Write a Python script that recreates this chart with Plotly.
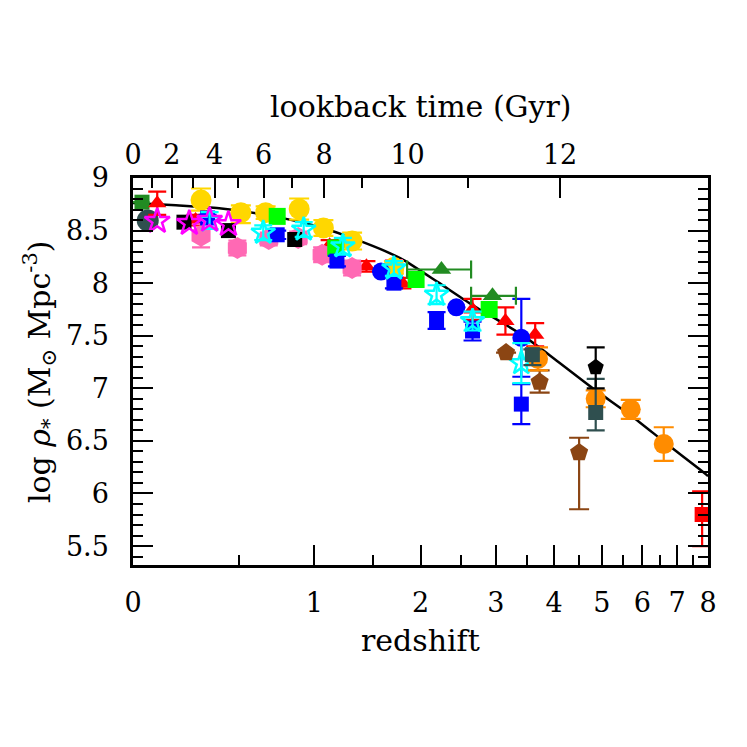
import numpy as np
import plotly.graph_objects as go

# ---------------- data ----------------
# model curve (log stellar mass density vs redshift)
curve_z = [0, 0.178, 0.39, 0.62, 0.82, 1.068, 1.348, 1.633, 1.823, 2.206, 2.641, 3.41, 4.006, 4.83, 5.71, 6.62, 7.76, 8.0]
curve_y = [8.762, 8.74, 8.712, 8.66, 8.604, 8.525, 8.414, 8.30, 8.215, 8.01, 7.80, 7.513, 7.28, 6.99, 6.74, 6.49, 6.22, 6.165]

fgsq_z = [0.035]; fgsq_y = [8.77]
dsgc_z = [0.058]; dsgc_y = [8.595]

red_tri_z = [0.097, 0.27, 1.12, 1.44, 1.80, 2.66, 3.15, 3.65]
red_tri_y = [8.76, 8.60, 8.36, 8.16, 8.00, 7.75, 7.64, 7.51]
red_tri_hi = [0.11, 0.05, 0.05, 0.05, 0.05, 0.10, 0.13, 0.11]
red_tri_lo = [0.11, 0.05, 0.05, 0.05, 0.05, 0.10, 0.13, 0.11]

mag_star_z = [0.097, 0.24, 0.34, 0.44]
mag_star_y = [8.59, 8.57, 8.60, 8.56]

gold_z = [0.297, 0.51, 0.66, 0.887, 1.07, 1.31, 1.71]
gold_y = [8.79, 8.67, 8.67, 8.705, 8.525, 8.40, 8.15]
gold_hi = [0.11, 0.07, 0.06, 0.10, 0.075, 0.08, 0.06]
gold_lo = [0.10, 0.10, 0.06, 0.10, 0.075, 0.08, 0.06]

black_sq_z = [0.215, 0.44, 0.855]
black_sq_y = [8.58, 8.50, 8.415]

pink_z = [0.297, 0.49, 0.68, 0.88, 1.06, 1.31, 1.71]
pink_y = [8.45, 8.335, 8.42, 8.43, 8.27, 8.145, 8.15]
pink_err = [0.11, 0.07, 0.06, 0.06, 0.07, 0.07, 0.07]

blue_sq_z = [0.33, 0.735, 1.18, 1.71, 2.19, 2.66, 3.41]
blue_sq_y = [8.62, 8.46, 8.21, 8.00, 7.645, 7.545, 6.85]
blue_sq_err = [0.03, 0.04, 0.05, 0.05, 0.08, 0.09, 0.19]

blue_c_z = [1.58, 2.44, 3.41]
blue_c_y = [8.11, 7.77, 7.48]
blue_c_err = [0.0, 0.0, 0.37]

cyan_z = [0.34, 0.645, 0.92, 1.23, 1.71, 2.19, 2.66, 3.41]
cyan_y = [8.595, 8.48, 8.51, 8.35, 8.14, 7.89, 7.64, 7.24]
cyan_err = [0.08, 0.07, 0.07, 0.08, 0.07, 0.09, 0.09, 0.19]

lime_z = [0.735, 1.17, 1.95, 2.9]
lime_y = [8.635, 8.335, 8.035, 7.75]

fg_tri_z = [2.25, 2.95]
fg_tri_y = [8.13, 7.88]
fg_tri_zlo = [1.85, 2.64]
fg_tri_zhi = [2.64, 3.32]

brown_z = [3.16, 3.73, 4.5]
brown_y = [7.34, 7.06, 6.39]
brown_hi = [0.0, 0.11, 0.14]
brown_lo = [0.0, 0.10, 0.54]

dsg_sq_z = [3.6, 4.86]
dsg_sq_y = [7.32, 6.77]
dsg_sq_hi = [0.05, 0.32]
dsg_sq_lo = [0.10, 0.17]

orange_z = [3.7, 4.86, 5.7, 6.6]
orange_y = [7.28, 6.90, 6.80, 6.47]
orange_err = [0.11, 0.08, 0.09, 0.16]

black_pent_z = [4.86]; black_pent_y = [7.20]
black_pent_hi = [0.19]; black_pent_lo = [0.20]

red_sq_z = [7.8]; red_sq_y = [5.80]
red_sq_hi = [0.22]; red_sq_lo = [0.30]

# axes
z_ticks = [0, 1, 2, 3, 4, 5, 6, 7, 8]
z_minor = [0.5, 1.5, 2.5, 3.5, 4.5, 5.5, 6.5, 7.5]
lb_major = [0, 2, 4, 6, 8, 10, 12]
lb_minor = [1, 3, 5, 7, 9, 11]

# ---------------- helpers ----------------
def opz(z):
    return [1 + v for v in z]

# flat LCDM (H0=70, Om=0.3) lookback time -> redshift, for top axis ticks
H0inv = 977.8 / 70.0
A = 2.0 / (3.0 * np.sqrt(0.7)) * H0inv
k = np.sqrt(0.7 / 0.3)
t0 = A * np.arcsinh(k)

def z_of_tl(tl):
    age = t0 - tl
    return (np.sinh(age / A) / k) ** (-2.0 / 3.0) - 1.0

FONT = "DejaVu Serif"
fig = go.Figure()

def errs(hi, lo, color, width=9):
    return dict(type="data", array=hi, arrayminus=lo, symmetric=False,
                color=color, thickness=2.2, width=width)

def add(z, y, symbol, color, size, ey=None, ex=None, line=None):
    marker = dict(symbol=symbol, color=color, size=size, line=dict(width=0))
    if line is not None:
        marker["line"] = line
    tr = go.Scatter(x=opz(z), y=y, mode="markers", marker=marker,
                    showlegend=False, hoverinfo="skip")
    if ey is not None:
        tr.error_y = ey
    if ex is not None:
        tr.error_x = ex
    fig.add_trace(tr)

# curve
fig.add_trace(go.Scatter(x=opz(curve_z), y=curve_y, mode="lines",
                         line=dict(color="black", width=2.5, shape="spline", smoothing=0.6),
                         showlegend=False, hoverinfo="skip"))

add(fgsq_z, fgsq_y, "square", "#228B22", 15,
    ex=dict(type="data", array=[0.03], arrayminus=[0.035], symmetric=False, color="#228B22", thickness=2.2, width=0))
add(dsgc_z, dsgc_y, "circle", "#2F4F4F", 22)
add(red_tri_z, red_tri_y, "triangle-up", "#FF0000", 16, ey=errs(red_tri_hi, red_tri_lo, "#FF0000"))
add(pink_z, pink_y, "hexagon", "#FF69B4", 22, ey=errs(pink_err, pink_err, "#FF69B4"))
add(gold_z, gold_y, "circle", "#FFD700", 21, ey=errs(gold_hi, gold_lo, "#FFD700", width=10))
add(black_sq_z, black_sq_y, "square", "black", 15)
add(lime_z, lime_y, "square", "#00FF00", 17)
add(blue_sq_z, blue_sq_y, "square", "#0000FF", 15, ey=errs(blue_sq_err, blue_sq_err, "#0000FF"))
add(blue_c_z, blue_c_y, "circle", "#0000FF", 18, ey=errs(blue_c_err, blue_c_err, "#0000FF"))
add(cyan_z, cyan_y, "star-open", "#00FFFF", 18, ey=errs(cyan_err, cyan_err, "#00FFFF"),
    line=dict(color="#00FFFF", width=2.5))
add(mag_star_z, mag_star_y, "star-open", "#FF00FF", 19, line=dict(color="#FF00FF", width=2.5))
add(fg_tri_z, fg_tri_y, "triangle-up", "#228B22", 17,
    ex=dict(type="data", array=[h - z for h, z in zip(fg_tri_zhi, fg_tri_z)],
            arrayminus=[z - l for l, z in zip(fg_tri_zlo, fg_tri_z)],
            symmetric=False, color="#228B22", thickness=2.2, width=9))
add(brown_z, brown_y, "pentagon", "#8B4513", 19, ey=errs(brown_hi, brown_lo, "#8B4513", width=10))
add(orange_z, orange_y, "circle", "#FF8C00", 20, ey=errs(orange_err, orange_err, "#FF8C00", width=10))
add(dsg_sq_z, dsg_sq_y, "square", "#2F4F4F", 15, ey=errs(dsg_sq_hi, dsg_sq_lo, "#2F4F4F"))
add(black_pent_z, black_pent_y, "pentagon", "black", 17, ey=errs(black_pent_hi, black_pent_lo, "black"))
add(red_sq_z, red_sq_y, "square", "#FF0000", 15, ey=errs(red_sq_hi, red_sq_lo, "#FF0000", width=10))

# dummy trace for the top axis
fig.add_trace(go.Scatter(x=[1, 9], y=[None, None], xaxis="x2", mode="markers",
                         showlegend=False, hoverinfo="skip"))

OFF = 7  # page offset of the figure in the screenshot
ML, MR, MT, MB = 131.5 - OFF, 40 + OFF, 176.6 - OFF, 182.5 + OFF
xr = [0, np.log10(9)]
tickfont = dict(family=FONT, size=27, color="black")
titlefont = dict(family=FONT, size=30, color="black")

plot_h = 747 - MT - MB
plot_w = 747 - ML - MR

def py(target):
    return (747 - MB - (target - OFF)) / plot_h

def px(target):
    return ((target - OFF) - ML) / plot_w

fig.update_layout(
    width=747, height=747,
    margin=dict(l=ML, r=MR, t=MT, b=MB, autoexpand=False),
    plot_bgcolor="white", paper_bgcolor="white",
    font=dict(family=FONT, color="black"),
    xaxis=dict(type="log", range=xr, tickmode="array",
               tickvals=opz(z_ticks), ticktext=[str(v) for v in z_ticks],
               ticks="inside", ticklen=20, tickwidth=2, tickcolor="black",
               minor=dict(tickmode="array", tickvals=opz(z_minor), ticks="inside",
                          ticklen=10, tickwidth=2, tickcolor="black"),
               showline=True, linecolor="black", linewidth=2.5, mirror=True,
               showgrid=False, zeroline=False, tickfont=tickfont, ticklabelstandoff=12,
               automargin=False),
    xaxis2=dict(type="log", range=xr, overlaying="x", side="top", tickmode="array",
                tickvals=[1 + z_of_tl(t) for t in lb_major], ticktext=[str(t) for t in lb_major],
                ticks="inside", ticklen=20, tickwidth=2, tickcolor="black",
                minor=dict(tickmode="array", tickvals=[1 + z_of_tl(t) for t in lb_minor],
                           ticks="inside", ticklen=10, tickwidth=2, tickcolor="black"),
                showline=False, showgrid=False, zeroline=False, tickfont=tickfont,
                ticklabelstandoff=8, automargin=False),
    yaxis=dict(range=[5.32, 9.0], tickmode="array", tickvals=[5.5, 6, 6.5, 7, 7.5, 8, 8.5, 9],
               ticktext=["5.5", "6", "6.5", "7", "7.5", "8", "8.5", "9"],
               ticks="inside", ticklen=20, tickwidth=2, tickcolor="black",
               minor=dict(dtick=0.1, tick0=0, ticks="inside", ticklen=10, tickwidth=2, tickcolor="black"),
               showline=True, linecolor="black", linewidth=2.5, mirror="ticks",
               showgrid=False, zeroline=False, tickfont=tickfont, ticklabelstandoff=16,
               automargin=False),
    annotations=[
        dict(text="redshift", x=0.5, y=py(640), xref="paper", yref="paper",
             showarrow=False, yanchor="middle", font=titlefont),
        dict(text="lookback time (Gyr)", x=0.5, y=py(105), xref="paper",
             yref="paper", showarrow=False, yanchor="middle", font=titlefont),
        dict(text="log <i>ρ</i><sub>*</sub> (M<sub>⊙</sub> Mpc<sup>-3</sup>)",
             x=px(38), y=0.5, xref="paper", yref="paper", showarrow=False,
             textangle=-90, xanchor="center", font=titlefont),
    ],
)

fig.write_html("out.html")
